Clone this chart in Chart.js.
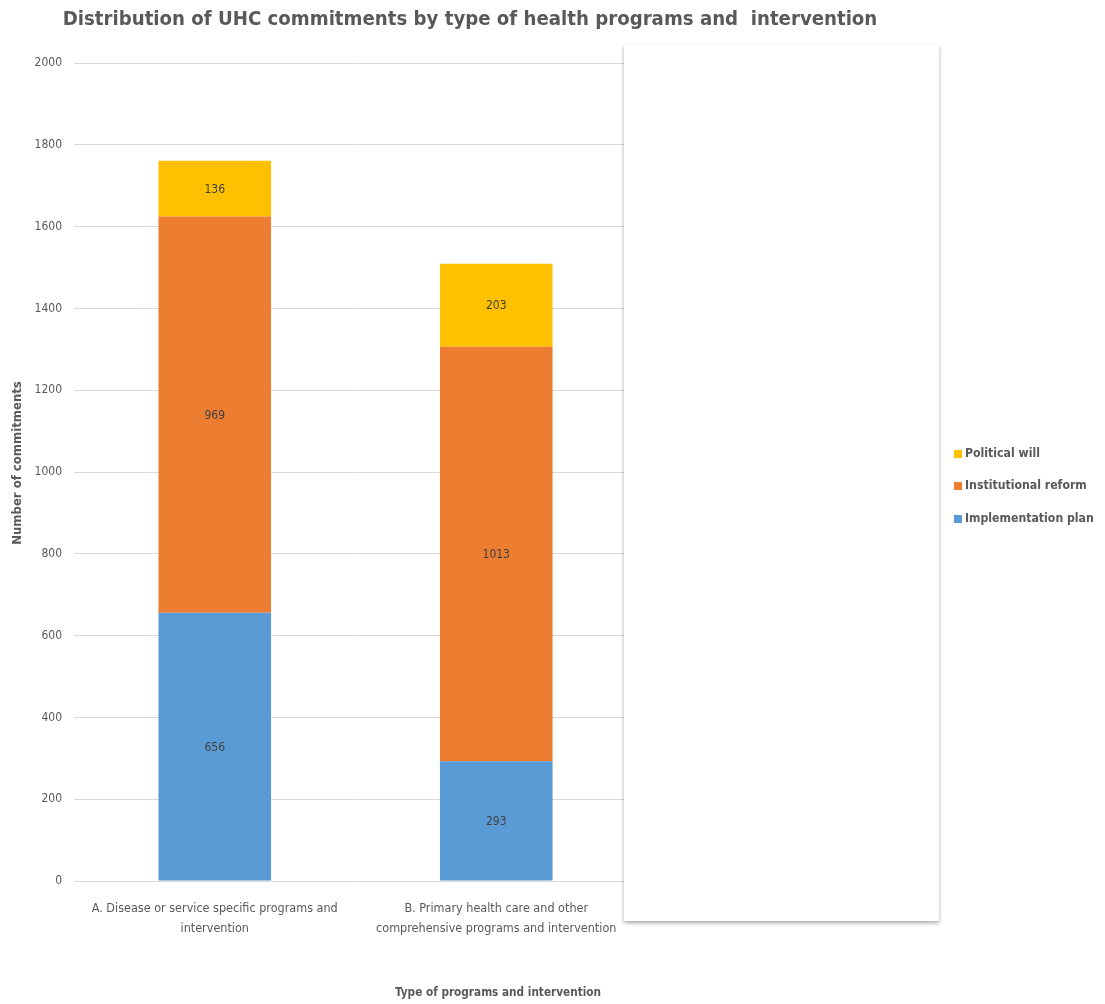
<!DOCTYPE html>
<html>
<head>
<meta charset="utf-8">
<script src="https://cdn.jsdelivr.net/npm/chart.js@4.4.1/dist/chart.umd.min.js"></script>
<style>
  html, body { margin: 0; padding: 0; background: #ffffff; }
  #wrap { width: 1105px; height: 1004px; position: relative; }
</style>
</head>
<body>
<div id="wrap"><canvas id="chart" width="1105" height="1004"></canvas></div>
<script>
// Program categories (two-line axis labels)
const categories = [
  ["A. Disease or service specific programs and", "intervention"],
  ["B. Primary health care and other", "comprehensive programs and intervention"]
];

// Commitments per category, one array per commitment type
const implementationPlan = [656, 293];
const institutionalReform = [969, 1013];
const politicalWill = [136, 203];

const seriesNames = ["Implementation plan", "Institutional reform", "Political will"];
const seriesColors = ["#5B9BD5", "#ED7D31", "#FFC000"];

const chartTitle = "Distribution of UHC commitments by type of health programs and  intervention";
const yTitle = "Number of commitments";
const xTitle = "Type of programs and intervention";

const FONT = '"Liberation Sans Narrow", "DejaVu Sans Condensed", "Liberation Sans", sans-serif';
const TEXT = "#595959";

// Title, axis titles, side panel, value labels and legend
const decorations = {
  id: "decorations",
  beforeDatasetsDraw(chart) {
    const ctx = chart.ctx;
    ctx.save();
    // white panel with soft shadow on the right of the plot
    ctx.shadowColor = "rgba(0,0,0,0.35)";
    ctx.shadowBlur = 4;
    ctx.shadowOffsetX = 0;
    ctx.shadowOffsetY = 2;
    ctx.fillStyle = "#ffffff";
    ctx.fillRect(624, 45, 315, 876);
    ctx.restore();
  },
  afterDatasetsDraw(chart) {
    const ctx = chart.ctx;
    ctx.save();
    // segment values
    ctx.font = "12px " + FONT;
    ctx.fillStyle = "#404040";
    ctx.textAlign = "center";
    ctx.textBaseline = "middle";
    chart.data.datasets.forEach((ds, i) => {
      const meta = chart.getDatasetMeta(i);
      meta.data.forEach((bar, j) => {
        const mid = (bar.y + bar.base) / 2;
        ctx.fillText(String(ds.data[j]), bar.x, mid + 1);
      });
    });
    ctx.restore();
  },
  afterDraw(chart) {
    const ctx = chart.ctx;
    ctx.save();
    ctx.fillStyle = TEXT;
    ctx.textBaseline = "middle";
    // chart title
    ctx.font = "bold 20.2px " + FONT;
    ctx.textAlign = "center";
    ctx.fillText(chartTitle, 470, 20);
    // x axis title
    ctx.font = "bold 11.7px " + FONT;
    ctx.fillText(xTitle, 498, 993);
    // y axis title
    ctx.save();
    ctx.font = "bold 13px " + FONT;
    ctx.translate(18, 463);
    ctx.rotate(-Math.PI / 2);
    ctx.fillText(yTitle, 0, 0);
    ctx.restore();
    // legend (top to bottom in reverse stacking order)
    const ys = [454, 486, 519];
    ctx.textAlign = "left";
    ctx.font = "bold 12.2px " + FONT;
    const order = chart.data.datasets.map((d, i) => i).reverse();
    order.forEach((di, k) => {
      const ds = chart.data.datasets[di];
      ctx.fillStyle = ds.backgroundColor;
      ctx.fillRect(954, ys[k] - 4, 8, 8);
      ctx.fillStyle = TEXT;
      ctx.fillText(ds.label, 965, ys[k]);
    });
    ctx.restore();
  }
};

new Chart(document.getElementById("chart"), {
  type: "bar",
  data: {
    labels: categories,
    datasets: [
      { label: seriesNames[0], data: implementationPlan, backgroundColor: seriesColors[0] },
      { label: seriesNames[1], data: institutionalReform, backgroundColor: seriesColors[1] },
      { label: seriesNames[2], data: politicalWill, backgroundColor: seriesColors[2] }
    ].map(d => Object.assign(d, { categoryPercentage: 0.8, barPercentage: 0.5, borderWidth: 0 }))
  },
  options: {
    responsive: false,
    animation: false,
    devicePixelRatio: 1,
    layout: { padding: { left: 0, right: 468, top: 63, bottom: 0 } },
    plugins: {
      legend: { display: false },
      title: { display: false },
      tooltip: { enabled: false }
    },
    scales: {
      x: {
        stacked: true,
        grid: { display: false },
        border: { display: false },
        ticks: {
          color: TEXT,
          font: { family: FONT, size: 12.5, lineHeight: 1.65 },
          padding: 9,
          maxRotation: 0,
          autoSkip: false
        },
        afterFit(scale) { scale.height = 1004 - 881; }
      },
      y: {
        stacked: true,
        min: 0,
        max: 2000,
        grid: { color: "#d9d9d9", drawTicks: false, lineWidth: 1 },
        border: { display: false },
        ticks: {
          stepSize: 200,
          color: TEXT,
          font: { family: FONT, size: 12 },
          padding: 12,
          callback: v => String(v)
        },
        afterFit(scale) { scale.width = 74; }
      }
    }
  },
  plugins: [decorations]
});
</script>
</body>
</html>
